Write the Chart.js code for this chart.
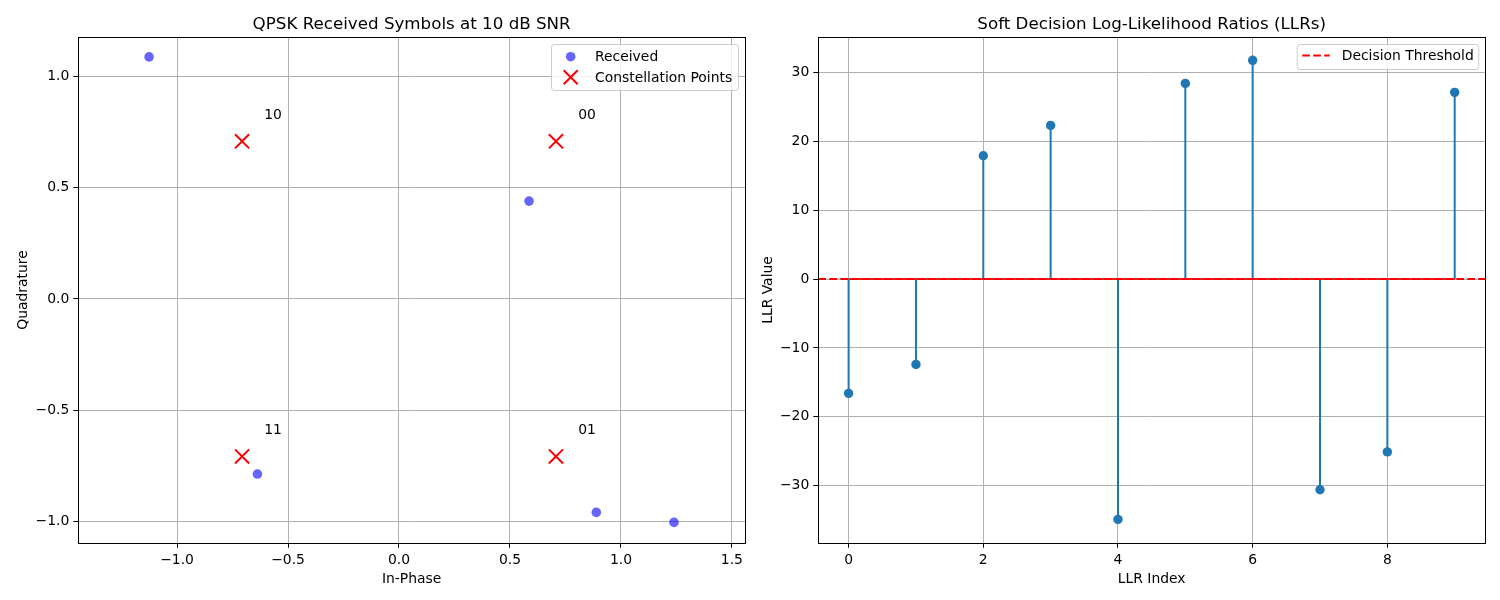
<!DOCTYPE html>
<html><head><meta charset="utf-8">
<script src="https://cdn.jsdelivr.net/npm/chart.js@4"></script>
<style>
html,body{margin:0;padding:0;background:#fff;}
#wrap{position:relative;width:1500px;height:600px;overflow:hidden;}
.box{position:absolute;top:0;height:600px;}
</style></head><body>
<div id="wrap">
<div class="box" style="left:0;width:760px"><canvas id="c1"></canvas></div>
<div class="box" style="left:760px;width:740px"><canvas id="c2"></canvas></div>
</div>
<script>
// ---- data ----
const receivedI = [-1.126, 0.586, -0.638, 0.889, 1.239];
const receivedQ = [1.086, 0.439, -0.786, -0.958, -1.003];
const constI = [0.7071, -0.7071, -0.7071, 0.7071];
const constQ = [0.7071, 0.7071, -0.7071, -0.7071];
const constLabels = ['00', '10', '11', '01'];
const iqXTicks = [-1.0, -0.5, 0.0, 0.5, 1.0, 1.5];
const iqYTicks = [-1.0, -0.5, 0.0, 0.5, 1.0];
const llrIndex = [0, 1, 2, 3, 4, 5, 6, 7, 8, 9];
const llrValues = [-16.6, -12.4, 17.9, 22.3, -34.9, 28.4, 31.75, -30.6, -25.1, 27.1];
const llrXTicks = [0, 2, 4, 6, 8];
const llrYTicks = [-30, -20, -10, 0, 10, 20, 30];
const threshold = 0;

// ---- helpers ----
const FONT = '"DejaVu Sans", sans-serif';
const DASH = [7.7, 3.3];
const fmt1 = v => (v < 0 ? '\u2212' : '') + Math.abs(v).toFixed(1);
const fmt0 = v => (v < 0 ? '\u2212' : '') + String(Math.abs(Math.round(v)));

function axis(ticks, fmt, min, max, fit) {
  return {
    type: 'linear', min: min, max: max,
    afterBuildTicks: s => { s.ticks = ticks.map(v => ({ value: v })); },
    afterFit: fit,
    grid: { color: '#b0b0b0', lineWidth: 1, drawTicks: true, tickLength: 5, tickColor: '#000', tickWidth: 1 },
    border: { display: false },
    ticks: { color: '#000', font: { family: FONT, size: 13.9 }, padding: 4, autoSkip: false, maxRotation: 0,
             callback: v => fmt(v) }
  };
}

function decor(opts) {
  return {
    id: 'decor',
    afterDraw(chart) {
      const ctx = chart.ctx, a = chart.chartArea;
      ctx.save();
      // frame
      ctx.strokeStyle = '#000'; ctx.lineWidth = 1;
      ctx.strokeRect(Math.round(a.left) + 0.5, Math.round(a.top) + 0.5,
                     Math.round(a.right) - Math.round(a.left), Math.round(a.bottom) - Math.round(a.top));
      ctx.fillStyle = '#000';
      const cx = (a.left + a.right) / 2;
      // title
      ctx.font = '16.7px ' + FONT; ctx.textAlign = 'center'; ctx.textBaseline = 'alphabetic';
      ctx.fillText(opts.title, cx, a.top - 8.3);
      // x label
      ctx.font = '13.9px ' + FONT;
      ctx.fillText(opts.xlabel, cx, 583);
      // y label
      ctx.save();
      ctx.translate(opts.ylabelX, (a.top + a.bottom) / 2);
      ctx.rotate(-Math.PI / 2);
      ctx.fillText(opts.ylabel, 0, 0);
      ctx.restore();
      if (opts.extra) opts.extra(chart, ctx);
      // legend
      const L = opts.legend;
      ctx.beginPath();
      ctx.roundRect(L.x + 0.5, L.y + 0.5, L.w, L.h, 3);
      ctx.fillStyle = 'rgba(255,255,255,0.8)'; ctx.fill();
      ctx.strokeStyle = '#cccccc'; ctx.lineWidth = 1; ctx.stroke();
      L.items.forEach((it, k) => {
        const y = L.y + L.firstY + k * L.rowH;
        it.draw(ctx, L.x + L.handleX, y);
        ctx.fillStyle = '#000'; ctx.font = '13.9px ' + FONT;
        ctx.textAlign = 'left'; ctx.textBaseline = 'middle';
        ctx.fillText(it.label, L.x + L.textX, y + 1);
      });
      ctx.restore();
    }
  };
}

// ---- left chart ----
new Chart(document.getElementById('c1'), {
  type: 'scatter',
  data: {
    datasets: [
      { label: 'Constellation Points', data: constI.map((x, i) => ({ x: x, y: constQ[i] })),
        pointStyle: 'crossRot', pointRadius: 10, pointHoverRadius: 10, borderColor: '#ff0000', borderWidth: 2,
        backgroundColor: '#ff0000', order: 0 },
      { label: 'Received', data: receivedI.map((x, i) => ({ x: x, y: receivedQ[i] })),
        pointStyle: 'circle', pointRadius: 4.8, pointHoverRadius: 4.8, backgroundColor: 'rgba(0,0,255,0.6)',
        borderWidth: 0, order: 1 }
    ]
  },
  options: {
    responsive: true, maintainAspectRatio: false, animation: false,
    layout: { padding: { left: 0, right: 15, top: 37.3, bottom: 0 } },
    plugins: { legend: { display: false }, tooltip: { enabled: false } },
    scales: {
      x: axis(iqXTicks, fmt1, -1.445, 1.559, s => { s.height = 57.3; }),
      y: axis(iqYTicks, fmt1, -1.094, 1.174, s => { s.width = 78.3; })
    }
  },
  plugins: [decor({
    title: 'QPSK Received Symbols at 10 dB SNR', xlabel: 'In-Phase', ylabel: 'Quadrature', ylabelX: 26.5,
    extra(chart, ctx) {
      const xs = chart.scales.x, ys = chart.scales.y;
      ctx.font = '13.9px ' + FONT; ctx.textAlign = 'left'; ctx.textBaseline = 'alphabetic'; ctx.fillStyle = '#000';
      constLabels.forEach((t, i) => {
        ctx.fillText(t, xs.getPixelForValue(constI[i] + 0.1), ys.getPixelForValue(constQ[i] + 0.1));
      });
    },
    legend: {
      x: 551, y: 44, w: 187, h: 46, firstY: 12.7, rowH: 20.6, handleX: 19.7, textX: 44,
      items: [
        { label: 'Received', draw(ctx, x, y) { ctx.beginPath(); ctx.arc(x, y, 4.8, 0, Math.PI * 2);
            ctx.fillStyle = 'rgba(0,0,255,0.6)'; ctx.fill(); } },
        { label: 'Constellation Points', draw(ctx, x, y) { const r = 7; ctx.beginPath();
            ctx.moveTo(x - r, y - r); ctx.lineTo(x + r, y + r); ctx.moveTo(x - r, y + r); ctx.lineTo(x + r, y - r);
            ctx.strokeStyle = '#ff0000'; ctx.lineWidth = 2; ctx.stroke(); } }
      ]
    }
  })]
});

// ---- right chart ----
const stemSets = llrIndex.map((x, i) => ({
  type: 'line', data: [{ x: x, y: threshold }, { x: x, y: llrValues[i] }],
  borderColor: '#1f77b4', borderWidth: 2, pointRadius: 0, pointHoverRadius: 0, order: 3
}));
new Chart(document.getElementById('c2'), {
  type: 'scatter',
  data: {
    datasets: [
      { label: 'Decision Threshold', type: 'line',
        data: [{ x: -0.45, y: threshold }, { x: 9.45, y: threshold }],
        borderColor: '#ff0000', borderWidth: 2, borderDash: DASH, pointRadius: 0, order: 0 },
      { label: 'markers', data: llrIndex.map((x, i) => ({ x: x, y: llrValues[i] })),
        pointStyle: 'circle', pointRadius: 4.7, pointHoverRadius: 4.7, backgroundColor: '#1f77b4',
        borderColor: '#1f77b4', borderWidth: 0, order: 1 },
      { label: 'baseline', type: 'line',
        data: [{ x: llrIndex[0], y: threshold }, { x: llrIndex[llrIndex.length - 1], y: threshold }],
        borderColor: '#d62728', borderWidth: 2, pointRadius: 0, order: 2 },
      ...stemSets
    ]
  },
  options: {
    responsive: true, maintainAspectRatio: false, animation: false,
    layout: { padding: { left: 0, right: 15, top: 37.3, bottom: 0 } },
    plugins: { legend: { display: false }, tooltip: { enabled: false } },
    scales: {
      x: axis(llrXTicks, fmt0, -0.45, 9.45, s => { s.height = 57.3; }),
      y: axis(llrYTicks, fmt0, -38.28, 35.09, s => { s.width = 58.3; })
    }
  },
  plugins: [decor({
    title: 'Soft Decision Log-Likelihood Ratios (LLRs)', xlabel: 'LLR Index', ylabel: 'LLR Value', ylabelX: 12,
    legend: {
      x: 536.7, y: 44, w: 181.6, h: 25, firstY: 11.5, rowH: 20.6, handleX: 19, textX: 45,
      items: [
        { label: 'Decision Threshold', draw(ctx, x, y) { ctx.beginPath(); ctx.setLineDash(DASH);
            ctx.moveTo(x - 13.5, y); ctx.lineTo(x + 14, y); ctx.strokeStyle = '#ff0000'; ctx.lineWidth = 2;
            ctx.stroke(); ctx.setLineDash([]); } }
      ]
    }
  })]
});
</script>
</body></html>
